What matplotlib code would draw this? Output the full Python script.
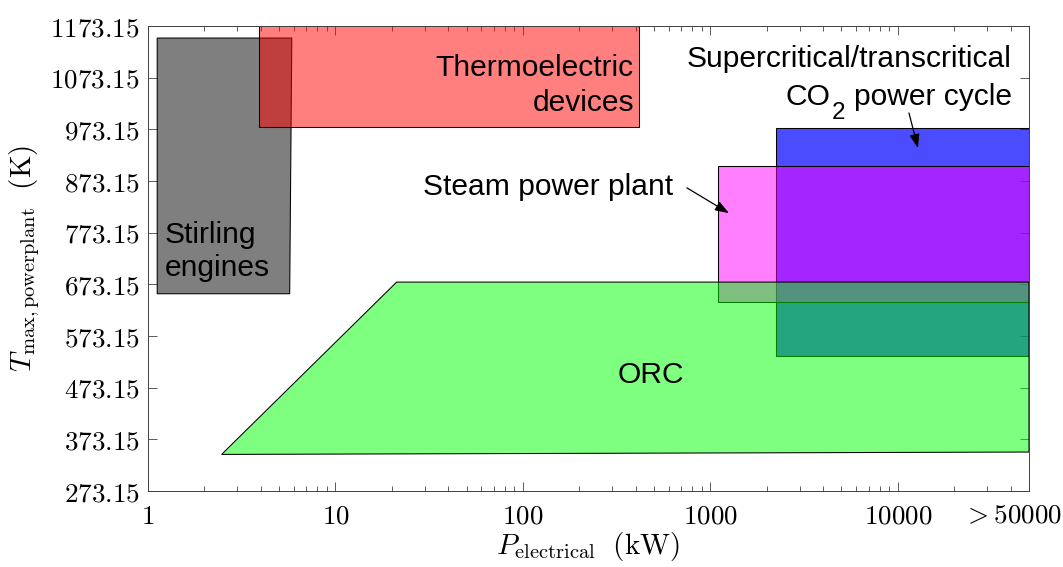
import matplotlib
matplotlib.use("Agg")
import matplotlib.pyplot as plt
import matplotlib.transforms as mtransforms
from matplotlib.patches import Polygon
from matplotlib.ticker import FixedLocator, FixedFormatter, NullFormatter
import numpy as np

plt.rcParams["mathtext.fontset"] = "cm"
plt.rcParams["font.family"] = ["Liberation Sans", "DejaVu Sans"]

# Operating ranges: electrical power (kW) vs. maximum cycle temperature (K)
stirling_kw = [1.12, 5.85, 5.7, 1.12]
stirling_k = [1150, 1150, 655, 655]

thermo_kw = [3.9, 415, 415, 3.9]
thermo_k = [1250, 1250, 978, 978]

co2_kw = [2240, 50000, 50000, 2240]
co2_k = [976, 976, 534, 534]

steam_kw = [1100, 50000, 50000, 1100]
steam_k = [903, 903, 639, 639]

orc_kw = [2.47, 21.2, 50000, 50000]
orc_k = [344, 677.6, 677.6, 348.6]

y_ticks = [273.15, 373.15, 473.15, 573.15, 673.15, 773.15, 873.15, 973.15, 1073.15, 1173.15]
x_ticks = [1, 10, 100, 1000, 10000, 50000]
x_tick_labels = ["$1$", "$10$", "$100$", "$1000$", "$10000$", "$>$$50000$"]

fig = plt.figure(figsize=(10.63, 5.67), dpi=100)
ax = fig.add_axes([0.1392, 0.134, 0.8288, 0.820])
ax.set_xscale("log")
ax.set_xlim(1, 50000)
ax.set_ylim(273.15, 1173.15)


def region(xs, ys, rgb, alpha):
    poly = Polygon(np.column_stack([xs, ys]), closed=True,
                   facecolor=(*rgb, alpha), edgecolor="black", linewidth=0.75)
    ax.add_patch(poly)


region(stirling_kw, stirling_k, (0, 0, 0), 0.5)
region(thermo_kw, thermo_k, (1, 0, 0), 0.5)
region(co2_kw, co2_k, (0, 0, 1), 0.7)
region(steam_kw, steam_k, (1, 0, 1), 0.5)
region(orc_kw, orc_k, (0, 1, 0), 0.5)

fs = 21.6
ax.text(1.23, 753, "Stirling", fontsize=fs, ha="left", va="baseline")
ax.text(1.23, 689, "engines", fontsize=fs, ha="left", va="baseline")
ax.text(391, 1077, "Thermoelectric", fontsize=fs, ha="right", va="baseline")
ax.text(391, 1009, "devices", fontsize=fs, ha="right", va="baseline")
ax.text(40500, 1094, "Supercritical/transcritical", fontsize=fs, ha="right", va="baseline")
co2_tail = ax.text(40500, 1020, "power cycle", fontsize=fs, ha="right", va="baseline")
ax.text(631, 846, "Steam power plant", fontsize=fs, ha="right", va="baseline")
ax.text(481, 482, "ORC", fontsize=fs, ha="center", va="baseline")

arrow = dict(arrowstyle="-|>,head_length=0.7,head_width=0.25", color="black",
             lw=0.9, shrinkA=0, shrinkB=0, mutation_scale=12)
ax.annotate("", xy=(12790, 937), xytext=(11450, 1005), arrowprops=arrow)
ax.annotate("", xy=(1256, 811), xytext=(749, 860), arrowprops=arrow)

ax.yaxis.set_major_locator(FixedLocator(y_ticks))
ax.yaxis.set_major_formatter(FixedFormatter(["$%.2f$" % v for v in y_ticks]))
ax.xaxis.set_major_locator(FixedLocator(x_ticks))
ax.xaxis.set_major_formatter(FixedFormatter(x_tick_labels))
minors = [m * 10 ** d for d in range(0, 5) for m in range(2, 10) if m * 10 ** d < 50000]
ax.xaxis.set_minor_locator(FixedLocator(minors))
ax.xaxis.set_minor_formatter(NullFormatter())

ax.tick_params(which="both", direction="in", top=True, right=True,
               color="#404040", width=0.6, labelsize=19.5)
ax.tick_params(axis="y", pad=6)
ax.tick_params(axis="x", pad=9)
ax.tick_params(which="major", length=6.5)
ax.tick_params(which="minor", length=3.5)
ax.set_axisbelow(True)
for sp in ax.spines.values():
    sp.set_color("#404040")
    sp.set_linewidth(0.7)

ax.set_xlabel(r"$P_{\mathrm{electrical}}\ \ (\mathrm{kW})$", fontsize=21, labelpad=0)
ax.set_ylabel(r"$T_{\mathrm{max,powerplant}}\ \ (\mathrm{K})$", fontsize=21, labelpad=6)

# shift the last x tick label left so it stays inside the figure
fig.canvas.draw()
last = ax.get_xticklabels()[-1]
last.set_transform(last.get_transform()
                   + mtransforms.ScaledTranslation(-0.16, 0, fig.dpi_scale_trans))

# "CO" with a low subscript "2" placed in front of "power cycle"
renderer = fig.canvas.get_renderer()
bb = co2_tail.get_window_extent(renderer)
base_y = ax.transData.transform((40500, 1020))[1]
ident = mtransforms.IdentityTransform()
sub = fig.text(bb.x0 - 9, base_y - 14, "2", fontsize=17.5, ha="right",
               va="baseline", transform=ident)
bb2 = sub.get_window_extent(renderer)
fig.text(bb2.x0 - 1, base_y, "CO", fontsize=fs, ha="right", va="baseline",
         transform=ident)

fig.savefig("out.png", dpi=100)
